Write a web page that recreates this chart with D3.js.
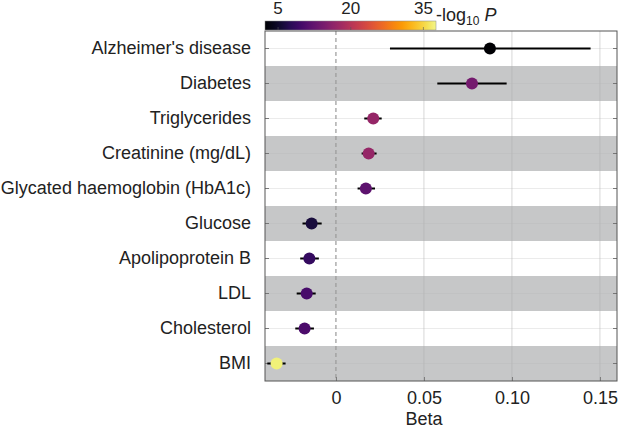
<!DOCTYPE html>
<html>
<head>
<meta charset="utf-8">
<script src="https://cdn.jsdelivr.net/npm/d3@7"></script>
<style>
  body { margin: 0; background: #fff; }
  text { font-family: "Liberation Sans", Arial, sans-serif; fill: #222; }
</style>
</head>
<body>
<div class="chart"></div>
<script>
// data
var traits = ["Alzheimer's disease", "Diabetes", "Triglycerides", "Creatinine (mg/dL)",
  "Glycated haemoglobin (HbA1c)", "Glucose", "Apolipoprotein B", "LDL", "Cholesterol", "BMI"];
var beta = [0.0875, 0.0773, 0.0212, 0.0186, 0.0170, -0.0138, -0.0151, -0.0166, -0.0178, -0.0337];
var ciLow = [0.0307, 0.0576, 0.0161, 0.0146, 0.0123, -0.0190, -0.0203, -0.0223, -0.0231, -0.0390];
var ciHigh = [0.1447, 0.0970, 0.0260, 0.0231, 0.0222, -0.0081, -0.0097, -0.0115, -0.0125, -0.0286];
var logP = [2.3, 14, 17, 17, 12, 6, 8.5, 10, 10.5, 37];
var xTicks = [0, 0.05, 0.10, 0.15];
var xTickLabels = ["0", "0.05", "0.10", "0.15"];
var cTicks = [5, 20, 35];

var svgWidth = 620;
var svgHeight = 430;
var margin = { top: 31, right: 3, bottom: 49, left: 265 };
var width = svgWidth - margin.left - margin.right;
var height = svgHeight - margin.top - margin.bottom;

var svg = d3.select(".chart")
  .append("svg")
  .attr("width", svgWidth)
  .attr("height", svgHeight);

var chartGroup = svg.append("g")
  .attr("transform", `translate(${margin.left}, ${margin.top})`);

var xScale = d3.scaleLinear()
  .domain([-0.0403, 0.1597])
  .range([0, width]);

var yScale = d3.scaleBand()
  .domain(traits)
  .range([0, height]);

var cDomain = [2.3, 37.6];
var colorScale = d3.scaleSequential(t => d3.interpolateInferno(t * 0.97))
  .domain(cDomain);

// alternating bands
chartGroup.selectAll("rect.band")
  .data(traits.filter((d, i) => i % 2 === 1))
  .enter()
  .append("rect")
  .attr("class", "band")
  .attr("x", 0)
  .attr("y", d => yScale(d))
  .attr("width", width)
  .attr("height", yScale.bandwidth())
  .attr("fill", "#c6c7c8");

// grid
chartGroup.selectAll("line.vgrid")
  .data(xTicks.slice(1))
  .enter()
  .append("line")
  .attr("x1", d => xScale(d))
  .attr("x2", d => xScale(d))
  .attr("y1", 0)
  .attr("y2", height)
  .attr("stroke", "#a9a9a9")
  .attr("stroke-opacity", 0.6)
  .attr("stroke-width", 0.8);

chartGroup.selectAll("line.hgrid")
  .data(traits)
  .enter()
  .append("line")
  .attr("x1", 0)
  .attr("x2", width)
  .attr("y1", d => yScale(d) + yScale.bandwidth() / 2)
  .attr("y2", d => yScale(d) + yScale.bandwidth() / 2)
  .attr("stroke", "#b5b5b5")
  .attr("stroke-opacity", 0.35)
  .attr("stroke-width", 0.8);

// zero line
chartGroup.append("line")
  .attr("x1", xScale(0))
  .attr("x2", xScale(0))
  .attr("y1", 0)
  .attr("y2", height)
  .attr("stroke", "#9a9a9a")
  .attr("stroke-width", 1.2)
  .attr("stroke-dasharray", "4,3");

// axes
var bottomAxis = d3.axisBottom(xScale)
  .tickValues(xTicks)
  .tickFormat((d, i) => xTickLabels[i])
  .tickSize(-4)
  .tickPadding(10);

var xAxis = chartGroup.append("g")
  .attr("transform", `translate(0, ${height})`)
  .call(bottomAxis);
xAxis.select(".domain").remove();
xAxis.selectAll("line").attr("stroke", "#777");
xAxis.selectAll("text").attr("font-size", "18px").attr("fill", "#222");

var leftAxis = d3.axisLeft(yScale)
  .tickSize(-4)
  .tickPadding(14);

var yAxis = chartGroup.append("g")
  .call(leftAxis);
yAxis.select(".domain").remove();
yAxis.selectAll("line").attr("stroke", "#777");
yAxis.selectAll("text").attr("font-size", "18px").attr("fill", "#222");

// right side ticks
chartGroup.selectAll("line.rtick")
  .data(traits)
  .enter()
  .append("line")
  .attr("x1", width - 4)
  .attr("x2", width)
  .attr("y1", d => yScale(d) + yScale.bandwidth() / 2)
  .attr("y2", d => yScale(d) + yScale.bandwidth() / 2)
  .attr("stroke", "#777");

// frame
chartGroup.append("rect")
  .attr("width", width)
  .attr("height", height)
  .attr("fill", "none")
  .attr("stroke", "#555")
  .attr("stroke-width", 1);

// error bars and points
var rows = traits.map((t, i) => ({ trait: t, beta: beta[i], lo: ciLow[i], hi: ciHigh[i], p: logP[i] }));

chartGroup.selectAll("line.ci")
  .data(rows)
  .enter()
  .append("line")
  .attr("x1", d => xScale(d.lo))
  .attr("x2", d => xScale(d.hi))
  .attr("y1", d => yScale(d.trait) + yScale.bandwidth() / 2)
  .attr("y2", d => yScale(d.trait) + yScale.bandwidth() / 2)
  .attr("stroke", "#000")
  .attr("stroke-width", 2);

chartGroup.selectAll("circle")
  .data(rows)
  .enter()
  .append("circle")
  .attr("cx", d => xScale(d.beta))
  .attr("cy", d => yScale(d.trait) + yScale.bandwidth() / 2)
  .attr("r", 6)
  .attr("fill", d => colorScale(d.p));

xAxis.append("text")
  .attr("x", xScale(0.05))
  .attr("y", 44)
  .attr("text-anchor", "middle")
  .attr("font-size", "18px")
  .attr("fill", "#222")
  .text("Beta");

// colour bar
var cScale = d3.scaleLinear()
  .domain(cDomain)
  .range([0, 171]);

var defs = svg.append("defs");
var grad = defs.append("linearGradient").attr("id", "cbar");
d3.range(0, 1.0001, 0.05).forEach(function(t) {
  grad.append("stop")
    .attr("offset", t)
    .attr("stop-color", colorScale(cDomain[0] + t * (cDomain[1] - cDomain[0])));
});

var cbar = svg.append("g")
  .attr("transform", `translate(${margin.left}, 21)`);

cbar.append("rect")
  .attr("width", 171)
  .attr("height", 9)
  .attr("fill", "url(#cbar)")
  .attr("stroke", "#888")
  .attr("stroke-width", 0.5);

cbar.selectAll("line.ctick")
  .data(cTicks)
  .enter()
  .append("line")
  .attr("x1", d => cScale(d))
  .attr("x2", d => cScale(d))
  .attr("y1", 6)
  .attr("y2", 9)
  .attr("stroke", "#555")
  .attr("stroke-width", 0.6);

cbar.selectAll("text.clabel")
  .data(cTicks)
  .enter()
  .append("text")
  .attr("x", d => cScale(d))
  .attr("y", -7)
  .attr("text-anchor", "middle")
  .attr("font-size", "17px")
  .text(d => d);

var cTitle = cbar.append("text")
  .attr("x", 171)
  .attr("y", 0)
  .attr("font-size", "18px");
cTitle.append("tspan").text("-log");
cTitle.append("tspan").attr("font-size", "12px").attr("dy", 4).text("10");
cTitle.append("tspan").attr("dy", -4).text(" ");
cTitle.append("tspan").attr("font-style", "italic").text("P");
</script>
</body>
</html>
